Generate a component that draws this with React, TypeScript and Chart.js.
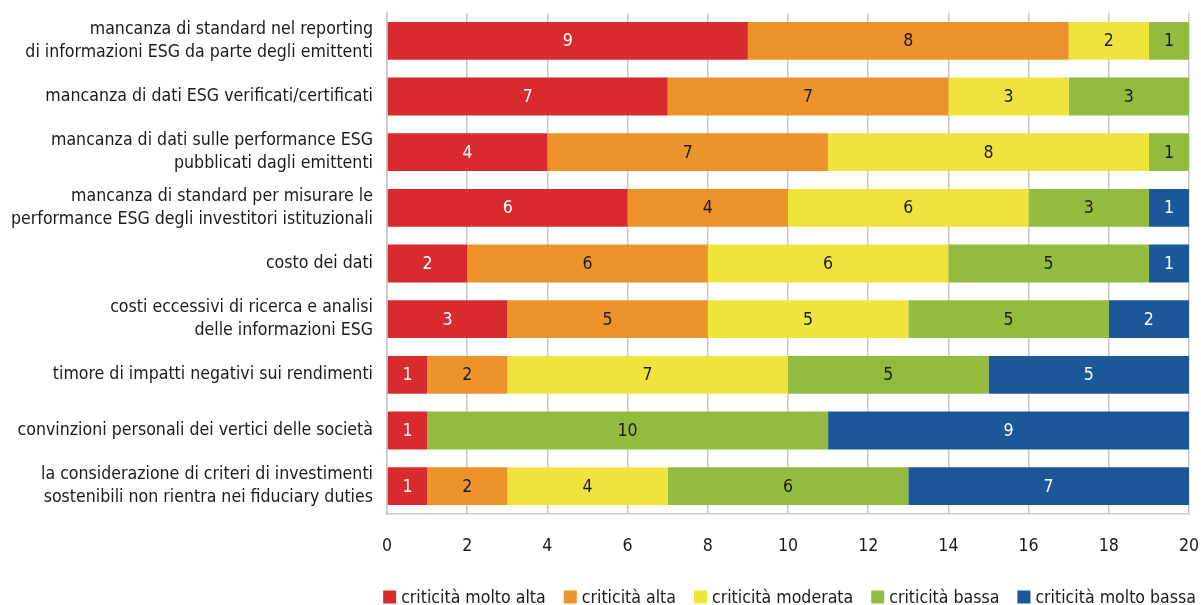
import React, { useEffect, useRef } from "react";
import { Chart, registerables } from "chart.js";

Chart.register(...registerables);

const categories: (string | string[])[] = [
  ["mancanza di standard nel reporting", "di informazioni ESG da parte degli emittenti"],
  "mancanza di dati ESG verificati/certificati",
  ["mancanza di dati sulle performance ESG", "pubblicati dagli emittenti"],
  ["mancanza di standard per misurare le", "performance ESG degli investitori istituzionali"],
  "costo dei dati",
  ["costi eccessivi di ricerca e analisi", "delle informazioni ESG"],
  "timore di impatti negativi sui rendimenti",
  "convinzioni personali dei vertici delle società",
  ["la considerazione di criteri di investimenti", "sostenibili non rientra nei fiduciary duties"],
];

const seriesNames = [
  "criticità molto alta",
  "criticità alta",
  "criticità moderata",
  "criticità bassa",
  "criticità molto bassa",
];

const moltoAlta = [9, 7, 4, 6, 2, 3, 1, 1, 1];
const alta = [8, 7, 7, 4, 6, 5, 2, 0, 2];
const moderata = [2, 3, 8, 6, 6, 5, 7, 0, 4];
const bassa = [1, 3, 1, 3, 5, 5, 5, 10, 6];
const moltoBassa = [0, 0, 0, 1, 1, 2, 5, 9, 7];

const xTicks = [0, 2, 4, 6, 8, 10, 12, 14, 16, 18, 20];

const colors = ["#d92b2d", "#ec922b", "#f0e33b", "#93bb3d", "#1c5899"];
const labelColors = ["#ffffff", "#1a1a1a", "#1a1a1a", "#1a1a1a", "#ffffff"];

const FONT = "'DejaVu Sans Condensed', 'Liberation Sans Narrow', sans-serif";
const FS = 17.6;

const valueLabels = {
  id: "valueLabels",
  afterDatasetsDraw(chart: any) {
    const ctx = chart.ctx;
    ctx.save();
    ctx.font = `${FS}px ${FONT}`;
    ctx.textAlign = "center";
    ctx.textBaseline = "middle";
    chart.data.datasets.forEach((ds: any, i: number) => {
      const meta = chart.getDatasetMeta(i);
      meta.data.forEach((bar: any, j: number) => {
        const v = ds.data[j];
        if (!v) return;
        const p = bar.getProps(["x", "y", "base"], true);
        ctx.fillStyle = labelColors[i];
        ctx.fillText(String(v), (p.x + p.base) / 2, p.y + 1);
      });
    });
    ctx.restore();
  },
};

const bottomLegend = {
  id: "bottomLegend",
  afterDraw(chart: any) {
    const ctx = chart.ctx;
    const box = 13;
    const gapText = 5;
    const gapItem = 18;
    ctx.save();
    ctx.font = `${FS}px ${FONT}`;
    ctx.textBaseline = "middle";
    ctx.textAlign = "left";
    const items = chart.data.datasets.map((ds: any) => ({
      label: ds.label,
      color: ds.backgroundColor,
      w: ctx.measureText(ds.label).width,
    }));
    const total =
      items.reduce((s: number, it: any) => s + box + gapText + it.w, 0) +
      gapItem * (items.length - 1);
    let x = 1196 - total;
    const y = 597;
    items.forEach((it: any) => {
      ctx.fillStyle = it.color;
      ctx.fillRect(x, y - box / 2, box, box);
      x += box + gapText;
      ctx.fillStyle = "#1a1a1a";
      ctx.fillText(it.label, x, y + 1);
      x += it.w + gapItem;
    });
    ctx.restore();
  },
};

const zeroPad = (axis: any) => {
  axis.paddingLeft = 0;
  axis.paddingRight = 0;
  axis.paddingTop = 0;
  axis.paddingBottom = 0;
};

export default function App() {
  const ref = useRef<HTMLCanvasElement>(null);
  useEffect(() => {
    document.body.style.margin = "0";
    const all = [moltoAlta, alta, moderata, bassa, moltoBassa];
    const chart = new Chart(ref.current!, {
      type: "bar",
      data: {
        labels: categories,
        datasets: all.map((d, i) => ({
          label: seriesNames[i],
          data: d,
          backgroundColor: colors[i],
          borderWidth: 0,
          barPercentage: 0.68,
          categoryPercentage: 1,
        })),
      },
      options: {
        indexAxis: "y",
        animation: false,
        responsive: false,
        maintainAspectRatio: false,
        layout: { padding: { top: 13, right: 12, left: 0, bottom: 50 } },
        scales: {
          x: {
            stacked: true,
            min: 0,
            max: 20,
            afterBuildTicks: (axis: any) => {
              axis.ticks = xTicks.map((v) => ({ value: v }));
            },
            afterFit: (axis: any) => {
              axis.height = 41;
              zeroPad(axis);
            },
            grid: { color: "#c8c8c8", drawTicks: false, lineWidth: 1.5 },
            border: { color: "#c8c8c8", width: 1.5 },
            ticks: { padding: 22, color: "#1a1a1a", font: { family: FONT, size: FS } },
          },
          y: {
            stacked: true,
            afterFit: (axis: any) => {
              axis.width = 387;
              zeroPad(axis);
            },
            grid: { display: false, drawTicks: false },
            border: { color: "#c8c8c8", width: 1.5 },
            ticks: { padding: 14, color: "#1a1a1a", font: { family: FONT, size: FS, lineHeight: 1.3 } },
          },
        },
        plugins: {
          legend: { display: false },
          tooltip: { enabled: false },
        },
      },
      plugins: [valueLabels, bottomLegend],
    });
    return () => chart.destroy();
  }, []);
  return (
    <div style={{ width: 1201, height: 605 }}>
      <canvas ref={ref} width={1201} height={605} style={{ display: "block" }} />
    </div>
  );
}
